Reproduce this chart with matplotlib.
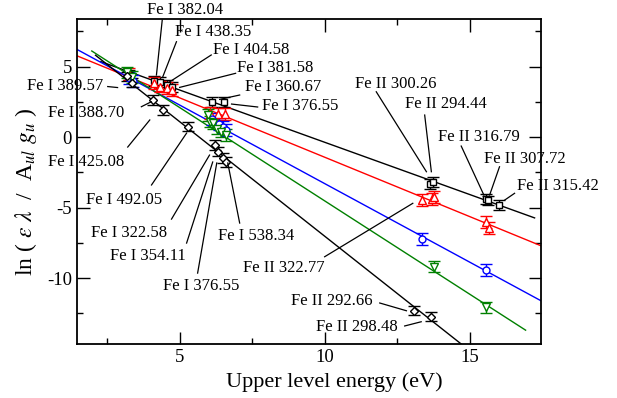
import matplotlib
matplotlib.use("Agg")
import matplotlib.pyplot as plt
from matplotlib.ticker import MultipleLocator

plt.rcParams['font.family'] = ['Liberation Serif', 'DejaVu Serif']
plt.rcParams['mathtext.fontset'] = 'stix'
plt.rcParams['axes.unicode_minus'] = False

# Boltzmann plot data (upper level energy in eV, ln(eps*lambda/(A*g)))
sq_x = [3.27, 4.10, 4.31, 4.55, 4.73, 6.13, 6.53, 13.64, 13.74, 15.55, 15.65, 16.00]
sq_y = [4.40, 3.97, 3.88, 3.72, 3.55, 2.46, 2.46, -3.30, -3.18, -4.42, -4.50, -4.80]

tri_x = [3.27, 4.10, 4.31, 4.55, 4.73, 6.03, 6.32, 6.55, 13.37, 13.71, 13.76, 15.58, 15.67]
tri_y = [4.45, 3.81, 3.58, 3.45, 3.33, 1.68, 1.63, 1.63, -4.47, -4.42, -4.23, -6.05, -6.43]

circ_x = [3.27, 3.40, 6.13, 6.35, 6.49, 6.61, 13.37, 15.58]
circ_y = [4.20, 3.95, 1.30, 0.95, 0.73, 0.50, -7.23, -9.43]

dtri_x = [3.20, 3.35, 5.98, 6.03, 6.15, 6.30, 6.44, 6.61, 13.77, 15.58]
dtri_y = [4.60, 4.25, 1.56, 1.09, 0.97, 0.60, 0.38, 0.14, -9.20, -12.08]

dia_x = [3.20, 3.35, 4.08, 4.42, 5.29, 6.21, 6.32, 6.48, 6.60, 13.08, 13.68]
dia_y = [4.30, 3.85, 2.62, 1.91, 0.73, -0.57, -1.04, -1.49, -1.77, -12.32, -12.74]

yerr = {'sq': 0.35, 'tri': 0.42, 'circ': 0.42, 'dtri': 0.40, 'dia': 0.33}

# linear fits: (x start, x end, slope, intercept)
fits = [
    (2.28, 17.24, -0.741, 7.04, 'black'),
    (1.45, 17.45, -0.842, 6.99, 'red'),
    (1.45, 17.45, -1.114, 7.84, 'blue'),
    (1.97, 16.93, -1.3235, 8.71, 'green'),
    (2.10, 15.50, -1.624, 9.21, 'black'),
]

# line labels: text, text x, text y, alignment, leader start, leader end
labels = [
    ('Fe I 382.04', 3.86, 9.00, 'left', (4.40, 8.30), (4.20, 4.40)),
    ('Fe I 438.35', 4.83, 7.45, 'left', (4.89, 6.76), (4.42, 4.28)),
    ('Fe I 404.58', 6.14, 6.17, 'left', (6.09, 5.82), (4.66, 3.92)),
    ('Fe I 381.58', 6.97, 4.89, 'left', (6.93, 4.52), (5.00, 3.52)),
    ('Fe I 360.67', 7.24, 3.55, 'left', (7.07, 2.98), (6.38, 2.67)),
    ('Fe I 376.55', 7.83, 2.20, 'left', (7.69, 2.13), (6.79, 2.34)),
    ('Fe I 389.57', 2.38, 3.62, 'right', (2.52, 3.58), (2.86, 3.51)),
    ('Fe I 388.70', 3.10, 1.70, 'right', (3.68, 2.15), (4.02, 2.50)),
    ('Fe I 425.08', 3.10, -1.75, 'right', (3.21, -0.71), (3.97, 1.21)),
    ('Fe I 492.05', 1.78, -4.47, 'left', (4.03, -3.40), (5.24, 0.28)),
    ('Fe I 322.58', 1.96, -6.79, 'left', (4.72, -5.82), (6.03, -1.28)),
    ('Fe I 354.11', 2.59, -8.44, 'left', (5.24, -7.52), (6.14, -1.77)),
    ('Fe I 376.55', 4.41, -10.55, 'left', (5.62, -9.65), (6.28, -1.84)),
    ('Fe I 538.34', 6.31, -7.02, 'left', (7.07, -6.10), (6.66, -1.84)),
    ('Fe II 300.26', 11.03, 3.76, 'left', (11.78, 3.21), (13.51, -2.46)),
    ('Fe II 294.44', 12.76, 2.34, 'left', (13.45, 1.56), (13.68, -2.46)),
    ('Fe II 316.79', 13.90, 0.00, 'left', (14.71, -0.64), (15.49, -4.11)),
    ('Fe II 307.72', 15.48, -1.56, 'left', (16.03, -2.11), (15.69, -4.11)),
    ('Fe II 315.42', 16.62, -3.48, 'left', (16.55, -3.99), (16.21, -4.47)),
    ('Fe II 322.77', 10.00, -9.29, 'right', (10.00, -8.49), (13.04, -4.70)),
    ('Fe II 292.66', 8.85, -11.61, 'left', (11.90, -11.77), (12.82, -12.32)),
    ('Fe II 298.48', 9.71, -13.48, 'left', (12.76, -13.40), (13.33, -13.10)),
]

fig = plt.figure(figsize=(6.17, 3.98), dpi=100)
ax = fig.add_axes([0.1243, 0.1349, 0.7520, 0.8166])

for x0, x1, m, b, c in fits:
    ax.plot([x0, x1], [m * x0 + b, m * x1 + b], color=c, lw=1.0, zorder=2)

series = [
    (sq_x, sq_y, 's', 'black', 5.0, 'sq'),
    (tri_x, tri_y, '^', 'red', 5.5, 'tri'),
    (circ_x, circ_y, 'o', 'blue', 5.0, 'circ'),
    (dtri_x, dtri_y, 'v', 'green', 5.5, 'dtri'),
    (dia_x, dia_y, 'D', 'black', 4.5, 'dia'),
]
for xs, ys, mk, c, ms, key in series:
    ax.errorbar(xs, ys, yerr=yerr[key], fmt=mk, color=c, mfc='white', mec=c,
                ms=ms, mew=1.0, elinewidth=1.0, capsize=4.3, capthick=1.0, zorder=3)

for txt, tx, ty, ha, p0, p1 in labels:
    ax.text(tx, ty, txt, ha=ha, va='center', fontsize=12, clip_on=False, zorder=5)
    ax.plot([p0[0], p1[0]], [p0[1], p1[1]], color='black', lw=0.9, zorder=4, clip_on=False)

ax.set_xlim(1.45, 17.45)
ax.set_ylim(-14.7, 8.35)
ax.xaxis.set_major_locator(MultipleLocator(5))
ax.xaxis.set_minor_locator(MultipleLocator(2.5))
ax.yaxis.set_major_locator(MultipleLocator(5))
ax.yaxis.set_minor_locator(MultipleLocator(2.5))
ax.tick_params(which='both', direction='in', top=True, right=True, labelsize=13.5, width=1.0)
ax.tick_params(which='major', length=9)
ax.tick_params(which='minor', length=4.5)
for s in ax.spines.values():
    s.set_linewidth(1.3)

ax.set_xlabel('Upper level energy (eV)', fontsize=16)
ax.xaxis.set_label_coords(0.555, -0.085)
ax.set_ylabel(r'ln ( $\varepsilon\ \lambda$  /  A$_{ul}\ g_u$ )', fontsize=17)
ax.yaxis.set_label_coords(-0.082, 0.47)

fig.savefig('out.png', dpi=100)
